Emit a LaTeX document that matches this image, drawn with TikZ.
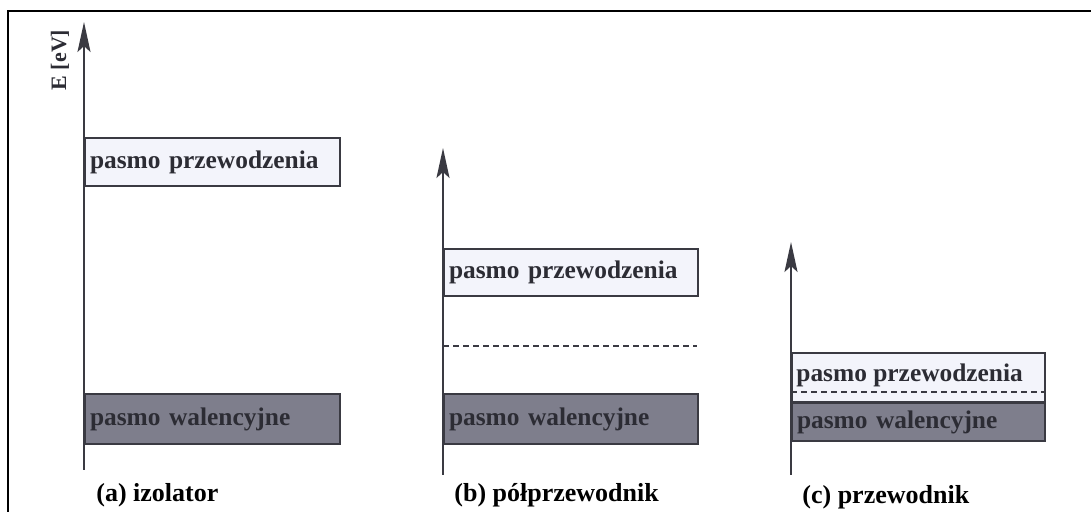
\documentclass[tikz,border=0pt]{standalone}
\usepackage{fontspec}
\setmainfont{Liberation Serif}
\usetikzlibrary{arrows.meta}
\definecolor{cbfill}{HTML}{F3F4FB}
\definecolor{vbfill}{HTML}{7E7E8C}
\definecolor{ink}{HTML}{3A3A42}
\definecolor{txt}{HTML}{2C2C34}
\tikzset{
  band/.style={draw=ink, line width=1pt, anchor=north west, inner xsep=2.5pt,
    inner ysep=0pt, align=left, text=txt,
    font=\fontsize{12.7}{14}\selectfont\bfseries},
  cb/.style={band, fill=cbfill},
  vb/.style={band, fill=vbfill},
  axis/.style={draw=ink, line width=1.1pt,
    -{Stealth[length=15pt, width=6.5pt, inset=3pt]}},
  fermi/.style={draw=ink, line width=0.7pt, dash pattern=on 3pt off 2pt},
  caption/.style={anchor=west, text=black, inner sep=0pt,
    font=\fontsize{13}{15}\selectfont\bfseries},
}
\begin{document}
\begin{tikzpicture}[x=0.5pt, y=-0.5pt]
\useasboundingbox (0,0) rectangle (1091,512);
% frame
\draw[line width=1pt, black] (8,512) -- (8,11) -- (1091,11);

% (a) insulator
\coordinate (a0) at (84,470);
\coordinate (a1) at (84,22);
\draw[axis] (a0) -- (a1);
\node[rotate=90, text=txt, font=\fontsize{11}{13}\selectfont\bfseries] (eunit) at (60,60) {E [eV]};
\node[cb, text width=122.5pt, minimum height=24pt] (cba) at (84,137) {pasmo przewodzenia};
\node[vb, text width=122.5pt, minimum height=25pt] (vba) at (84,393) {pasmo walencyjne};
\node[caption] (capa) at (96,495) {(a) izolator};

% (b) semiconductor
\coordinate (b0) at (443,475);
\coordinate (b1) at (443,148);
\draw[axis] (b0) -- (b1);
\node[cb, text width=122pt, minimum height=23.5pt] (cbb) at (443,248) {pasmo przewodzenia};
\coordinate (fbl) at (443,346);
\coordinate (fbr) at (697,346);
\draw[fermi] (fbl) -- (fbr);
\node[vb, text width=122pt, minimum height=25pt] (vbb) at (443,393) {pasmo walencyjne};
\node[caption] (capb) at (454,495) {(b) półprzewodnik};

% (c) conductor
\coordinate (c0) at (791,475);
\coordinate (c1) at (791,242);
\draw[axis] (c0) -- (c1);
\node[cb, text width=121.5pt, minimum height=24.5pt] (cbc) at (791,352) {};
\node[anchor=west, inner xsep=2.5pt, text=txt, font=\fontsize{12.7}{14}\selectfont\bfseries] (cbct) at (791,375) {pasmo przewodzenia};
\coordinate (fcl) at (791,392);
\coordinate (fcr) at (1044,392);
\draw[fermi] (fcl) -- (fcr);
\node[vb, text width=121.5pt, minimum height=19pt] (vbc) at (791,402) {pasmo walencyjne};
\node[caption] (capc) at (802,497) {(c) przewodnik};
\end{tikzpicture}
\end{document}
